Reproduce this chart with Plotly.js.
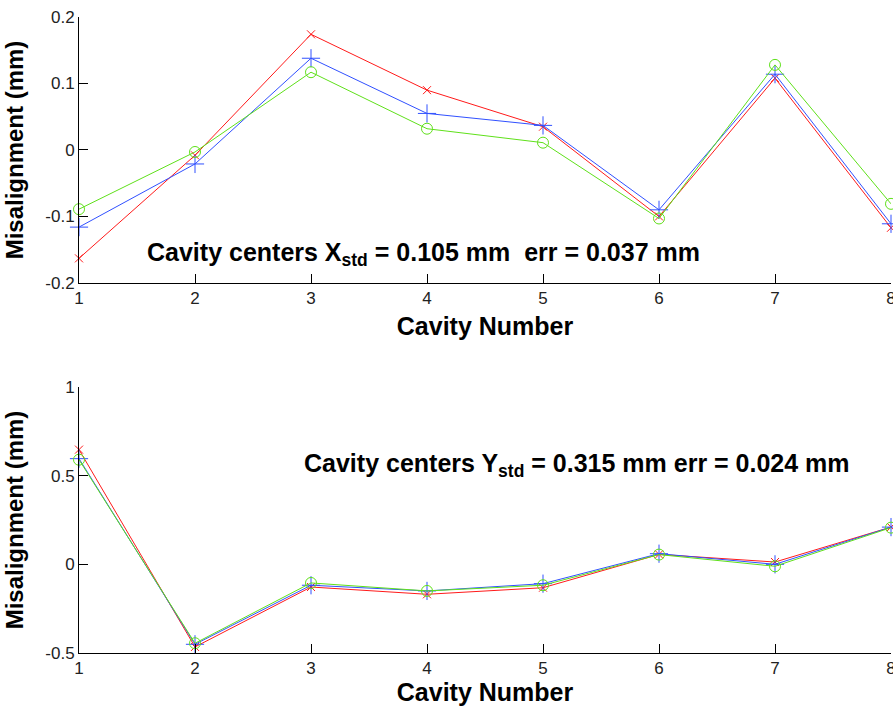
<!DOCTYPE html>
<html>
<head>
<meta charset="utf-8">
<script src="https://cdn.plot.ly/plotly-3.0.1.min.js"></script>
<style>html,body{margin:0;padding:0;background:#fff;}#chart{width:893px;height:706px;}</style>
</head>
<body>
<div id="chart"></div>
<script>
// Cavity numbers
const cavities = [1, 2, 3, 4, 5, 6, 7, 8];

// Top panel: X misalignment (mm)
const xRed   = [-0.163, -0.008, 0.174, 0.090, 0.035, -0.100, 0.108, -0.117];
const xBlue  = [-0.116, -0.021, 0.138, 0.055, 0.037, -0.090, 0.114, -0.111];
const xGreen = [-0.089, -0.003, 0.117, 0.032, 0.011, -0.103, 0.128, -0.081];

// Bottom panel: Y misalignment (mm)
const yRed   = [0.647, -0.466, -0.128, -0.169, -0.132, 0.056, 0.013, 0.210];
const yBlue  = [0.596, -0.451, -0.118, -0.150, -0.109, 0.060, 0.000, 0.210];
const yGreen = [0.590, -0.445, -0.105, -0.150, -0.118, 0.055, -0.011, 0.207];

const topTicks = [-0.2, -0.1, 0, 0.1, 0.2];
const topTickText = ['-0.2', '-0.1', '0', '0.1', '0.2'];
const botTicks = [-0.5, 0, 0.5, 1];
const botTickText = ['-0.5', '0', '0.5', '1'];

const textTop = 'Cavity centers X<sub>std</sub> = 0.105 mm  err = 0.037 mm';
const textBot = 'Cavity centers Y<sub>std</sub> = 0.315 mm err = 0.024 mm';
const xTitle = 'Cavity Number';
const yTitle = 'Misalignment (mm)';

const RED = '#ff1a1a', BLUE = '#3050ff', GREEN = '#5fe01a';

function tr(y, color, sym, size, xa, ya) {
  return {
    x: cavities, y: y, xaxis: xa, yaxis: ya, type: 'scatter', mode: 'lines+markers',
    line: {color: color, width: 1},
    marker: {symbol: sym, size: size, color: color, line: {color: color, width: 1}},
    cliponaxis: false, showlegend: false, hoverinfo: 'x+y'
  };
}

const data = [
  tr(xRed, RED, 'x-thin-open', 8, 'x', 'y'),
  tr(xBlue, BLUE, 'cross-thin-open', 13, 'x', 'y'),
  tr(xGreen, GREEN, 'circle-open', 11, 'x', 'y'),
  tr(yRed, RED, 'x-thin-open', 8, 'x2', 'y2'),
  tr(yBlue, BLUE, 'cross-thin-open', 13, 'x2', 'y2'),
  tr(yGreen, GREEN, 'circle-open', 11, 'x2', 'y2')
];

const FAM = 'Liberation Sans, Arial, sans-serif';
const tickFont = {family: FAM, size: 17, color: '#222'};
const xTitleFont = {family: FAM, size: 25, color: '#000', weight: 'bold'};
const yTitleFont = {family: FAM, size: 24, color: '#000', weight: 'bold'};

function xax(anchor) {
  return {
    anchor: anchor, domain: [0, 1], range: [1, 8], tickmode: 'array', tickvals: cavities,
    ticktext: cavities.map(String), ticks: 'inside', ticklen: 9, tickcolor: '#000', tickwidth: 1,
    showline: true, linecolor: '#000', linewidth: 1, mirror: false, showgrid: false, zeroline: false,
    tickfont: tickFont, fixedrange: true, ticklabeloverflow: 'allow',
    title: {text: '<b>' + xTitle + '</b>', font: xTitleFont, standoff: 10}
  };
}
function yax(anchor, dom, rng, tv, tt) {
  return {
    anchor: anchor, domain: dom, range: rng, tickmode: 'array', tickvals: tv, ticktext: tt,
    ticks: 'inside', ticklen: 9, tickcolor: '#000', tickwidth: 1,
    showline: true, linecolor: '#000', linewidth: 1, mirror: false, showgrid: false, zeroline: false,
    tickfont: tickFont, fixedrange: true, ticklabeloverflow: 'allow',
    title: {text: '<b>' + yTitle + '</b>', font: yTitleFont, standoff: 14}
  };
}

const layout = {
  width: 893, height: 706,
  margin: {l: 79, r: 2, t: 0, b: 0},
  paper_bgcolor: '#fff', plot_bgcolor: '#fff',
  xaxis: xax('y'),
  yaxis: yax('x', [0.5992, 0.9759], [-0.2, 0.2], topTicks, topTickText),
  xaxis2: xax('y2'),
  yaxis2: yax('x2', [0.0751, 0.4518], [-0.5, 1], botTicks, botTickText),
  annotations: [
    {text: '<b>' + textTop + '</b>', xref: 'x', yref: 'y', x: 1.565, y: -0.157,
     xanchor: 'left', yanchor: 'middle', showarrow: false,
     font: {family: FAM, size: 25, color: '#000'}},
    {text: '<b>' + textBot + '</b>', xref: 'x2', yref: 'y2', x: 2.925, y: 0.558,
     xanchor: 'left', yanchor: 'middle', showarrow: false,
     font: {family: FAM, size: 25, color: '#000'}}
  ],
  showlegend: false
};

Plotly.newPlot('chart', data, layout, {displayModeBar: false, staticPlot: true});
</script>
</body>
</html>
